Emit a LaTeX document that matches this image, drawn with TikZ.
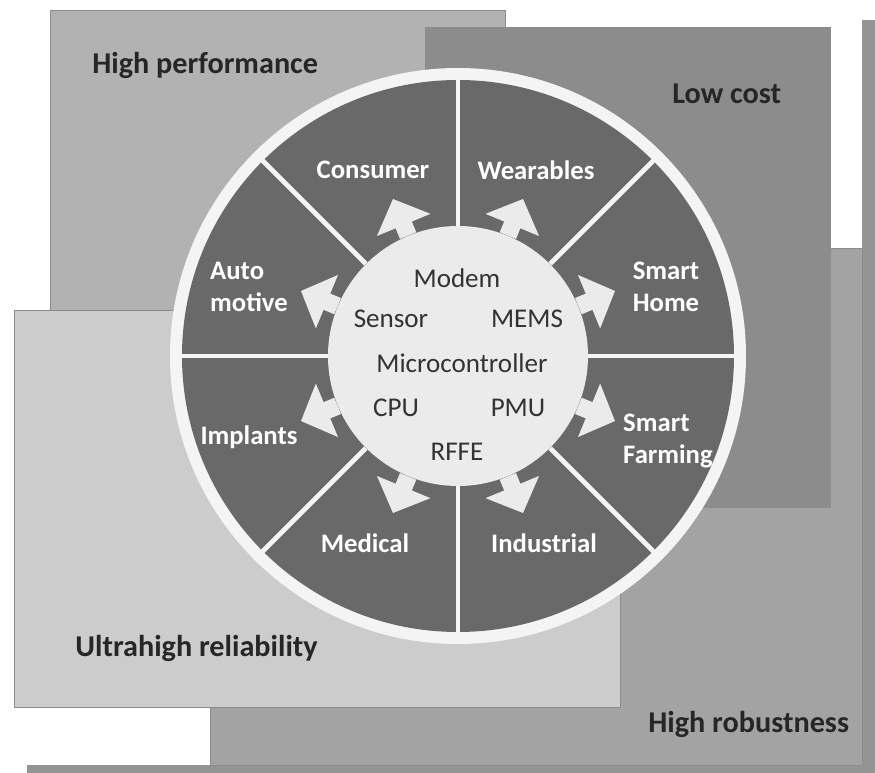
\documentclass[tikz,border=0pt]{standalone}
\usepackage{fontspec}
\setmainfont{Carlito}
\usepackage{xcolor}
\usetikzlibrary{arrows.meta}
\definecolor{sec}{HTML}{696969}
\definecolor{hub}{HTML}{EBEBEB}
\definecolor{rim}{HTML}{F4F4F4}
\tikzset{
  req/.style={draw=black!45,line width=0.5pt},
  grp/.style={font=\fontsize{17.2}{20}\selectfont\bfseries,text=black!85,anchor=base west,inner sep=0pt},
  app/.style={font=\fontsize{15.2}{18.2}\selectfont\bfseries,text=white,inner sep=0pt},
  blk/.style={font=\fontsize{15.4}{18}\selectfont,text=black!80,inner sep=0pt},
  spoke/.style={line width=10pt,draw=hub,-{Triangle[length=16pt,width=32pt]}},
  sep/.style={draw=rim,line width=2.8pt}
}

\begin{document}
\begin{tikzpicture}[x=0.2mm,y=0.2mm]
\useasboundingbox (-458,-417) rectangle (417,356);
% shadow of the frame
\fill[black!42] (404,336) rectangle (417,-417);
\fill[black!42] (-431,-409) rectangle (417,-417);
% the four requirement areas
\fill[black!36,req] (-248,108) rectangle (404,-409);
\fill[black!30,req] (-408,346) rectangle (47,46);
\fill[black!45,req] (-33,329) rectangle (372,-151);
\fill[black!20,req] (-444,46) rectangle (162,-351);
\node[grp] (perf) at (-366,282) {High performance};
\node[grp] (cost) at (214,252) {Low cost};
\node[grp] (rel) at (-383,-301) {Ultrahigh reliability};
\node[grp] (rob) at (190,-376) {High robustness};
% wheel
\fill[rim] (0,0) circle (288);
\fill[sec] (0,0) circle (276);
\node[circle,fill=hub,minimum size=52mm,inner sep=0pt] (core) at (0,0) {};
\foreach \a in {0,45,...,315}
  \draw[sep] (core.\a) -- (\a:277);
\foreach \a [count=\i] in {22.5,67.5,...,337.5}{
  \coordinate (tip-\i) at (\a:170);
  \draw[spoke] (core) -- (tip-\i);
}
% application sectors
\node[app] (cons) at (-85,186) {Consumer};
\node[app] (wear) at (78,186) {Wearables};
\node[app,align=center] (home) at (208,69) {Smart\\Home};
\node[app,align=left] (farm) at (210,-85) {Smart\\Farming};
\node[app] (indu) at (86,-187) {Industrial};
\node[app] (medi) at (-93,-187) {Medical};
\node[app] (impl) at (-209,-81) {Implants};
\node[app,align=left] (auto) at (-209,69) {Auto\\motive};
% building blocks
\node[blk] (modem) at (-1,78) {Modem};
\node[blk] (sens) at (-67,37) {Sensor};
\node[blk] (mems) at (69,37) {MEMS};
\node[blk] (mcu) at (4,-7) {Microcontroller};
\node[blk] (cpu) at (-62,-52) {CPU};
\node[blk] (pmu) at (60,-52) {PMU};
\node[blk] (rffe) at (-1,-96) {RFFE};
\end{tikzpicture}
\end{document}
